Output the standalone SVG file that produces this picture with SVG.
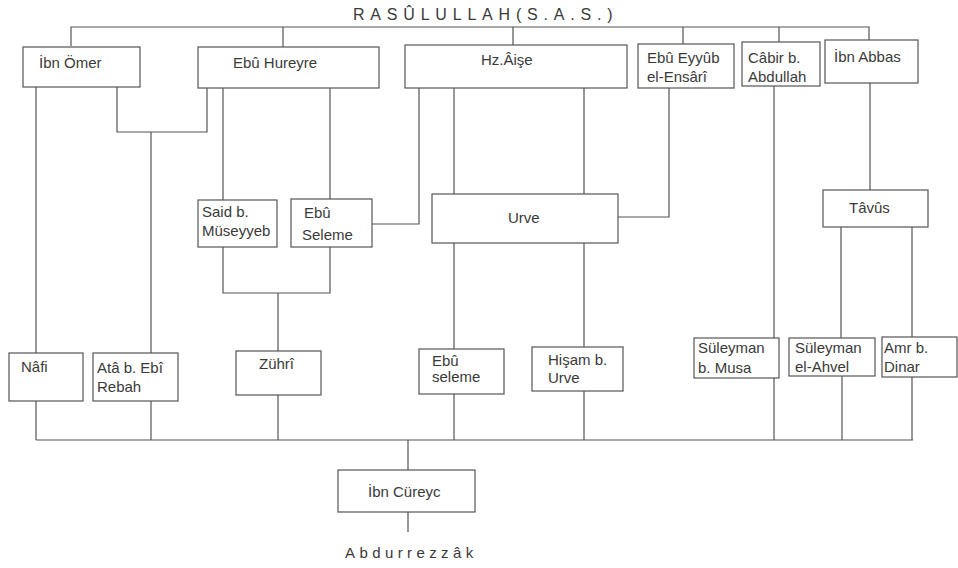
<svg xmlns="http://www.w3.org/2000/svg" width="958" height="568" viewBox="0 0 958 568">
<style>
.b{fill:#fff;stroke:#555;stroke-width:1.2}
.t{font-family:"Liberation Sans",Arial,sans-serif;font-size:15px;fill:#3a3a3a}
.c{fill:none;stroke:#555;stroke-width:1.2}
.s{font-family:"Liberation Sans",Arial,sans-serif;fill:#3a3a3a}
</style>
<rect width="958" height="568" fill="#fff"/>
<g id="connectors" class="c">
<path d="M71,46V27H869V40M283,27V47M513,27V45M683,27V44M779,27V42"/>
<path d="M36,87V353M36,401V440"/>
<path d="M117,87V132H207V88M151,132V353M151,401V440"/>
<path d="M223,88V200M330,88V199"/>
<path d="M372,224H419V88"/>
<path d="M223,247V293H330V247M278,293V351M278,395V440"/>
<path d="M454,88V194M584,88V194"/>
<path d="M669,88V217H618"/>
<path d="M454,243V349M454,394V440M584,243V347M584,391V440"/>
<path d="M774,86V338M774,378V440"/>
<path d="M870,83V190M841,227V338M842,376V440M912,227V337M912,377V440"/>
<path d="M36,440H913M408,440V470M408,512V532"/>
</g>
<text class="s" x="353" y="20" font-size="16" letter-spacing="5.8">RASÛLULLAH(S.A.S.)</text>
<g id="ibn-omer"><rect class="b" x="23" y="47" width="117" height="40"/><text class="t" x="39" y="68">İbn Ömer</text></g>
<g id="ebu-hureyre"><rect class="b" x="198" y="47" width="181" height="41"/><text class="t" x="233" y="68">Ebû Hureyre</text></g>
<g id="hz-aise"><rect class="b" x="405" y="45" width="222" height="43"/><text class="t" x="481" y="65">Hz.Âişe</text></g>
<g id="ebu-eyyub"><rect class="b" x="638" y="44" width="96" height="44"/><text class="t" x="647" y="63">Ebû Eyyûb</text><text class="t" x="647" y="82">el-Ensârî</text></g>
<g id="cabir"><rect class="b" x="742" y="42" width="78" height="44"/><text class="t" x="748" y="63">Câbir b.</text><text class="t" x="748" y="82">Abdullah</text></g>
<g id="ibn-abbas"><rect class="b" x="825" y="40" width="93" height="43"/><text class="t" x="834" y="62">İbn Abbas</text></g>
<g id="said"><rect class="b" x="198" y="200" width="79" height="47"/><text class="t" x="202" y="217">Said b.</text><text class="t" x="202" y="236">Müseyyeb</text></g>
<g id="ebu-seleme"><rect class="b" x="291" y="199" width="81" height="48"/><text class="t" x="304" y="218">Ebû</text><text class="t" x="302" y="240">Seleme</text></g>
<g id="urve"><rect class="b" x="432" y="194" width="186" height="49"/><text class="t" x="508" y="223">Urve</text></g>
<g id="tavus"><rect class="b" x="823" y="190" width="105" height="37"/><text class="t" x="849" y="213">Tâvûs</text></g>
<g id="nafi"><rect class="b" x="9" y="353" width="74" height="48"/><text class="t" x="21" y="372">Nâfi</text></g>
<g id="ata"><rect class="b" x="93" y="353" width="85" height="48"/><text class="t" x="97" y="373">Atâ b. Ebî</text><text class="t" x="97" y="392">Rebah</text></g>
<g id="zuhri"><rect class="b" x="236" y="351" width="85" height="44"/><text class="t" x="259" y="369">Zührî</text></g>
<g id="ebu-seleme-2"><rect class="b" x="419" y="349" width="85" height="45"/><text class="t" x="432" y="366">Ebû</text><text class="t" x="432" y="382">seleme</text></g>
<g id="hisam"><rect class="b" x="532" y="347" width="91" height="44"/><text class="t" x="548" y="365">Hişam b.</text><text class="t" x="548" y="383">Urve</text></g>
<g id="suleyman-musa"><rect class="b" x="694" y="338" width="85" height="40"/><text class="t" x="698" y="353">Süleyman</text><text class="t" x="698" y="373">b. Musa</text></g>
<g id="suleyman-ahvel"><rect class="b" x="789" y="338" width="86" height="38"/><text class="t" x="795" y="353">Süleyman</text><text class="t" x="795" y="372">el-Ahvel</text></g>
<g id="amr"><rect class="b" x="882" y="337" width="75" height="40"/><text class="t" x="884" y="353">Amr b.</text><text class="t" x="884" y="372">Dinar</text></g>
<g id="ibn-cureyc"><rect class="b" x="338" y="470" width="137" height="42"/><text class="t" x="368" y="497">İbn Cüreyc</text></g>
<text class="s" x="345" y="558" font-size="15" letter-spacing="4.4">Abdurrezzâk</text>
</svg>
